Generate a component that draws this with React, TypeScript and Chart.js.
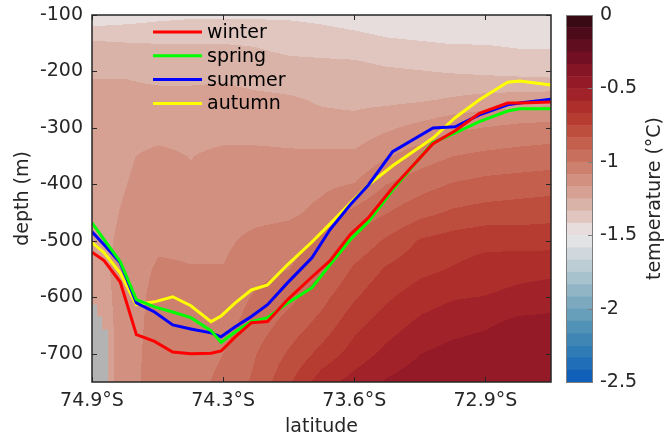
import React, { useEffect, useRef } from "react";
import { Chart, registerables } from "chart.js";

Chart.register(...registerables);

const FONT = "'DejaVu Sans', 'Liberation Sans', sans-serif";
const TEXT = "#262626";

// ---- line series (depth of isotherm by latitude) ----
const seasons = ["winter", "spring", "summer", "autumn"];
const seasonColors = ["#ff0000", "#00ff00", "#0000ff", "#ffff00"];
const lineLat = [-74.9, -74.84, -74.76, -74.68, -74.59, -74.5, -74.41, -74.31, -74.26, -74.19, -74.11, -74.03, -73.93, -73.81, -73.72, -73.62, -73.53, -73.41, -73.21, -73.1, -72.98, -72.84, -72.78, -72.625];
const winterDepth = [-520, -535, -573, -666, -678, -697, -700, -699, -695, -670, -645, -643, -604, -564, -535, -489, -459, -406, -328, -305, -274, -256, -256, -254];
const springDepth = [-468, -498, -537, -604, -617, -626, -636, -659, -680, -661, -643, -636, -610, -583, -542, -498, -466, -410, -326, -309, -289, -270, -266, -266];
const summerDepth = [-484, -507, -539, -610, -626, -649, -656, -663, -670, -652, -634, -613, -574, -530, -480, -436, -401, -342, -300, -298, -277, -259, -256, -249];
const autumnDepth = [-503, -521, -557, -613, -608, -599, -615, -643, -633, -610, -587, -578, -542, -502, -470, -433, -401, -367, -318, -282, -250, -219, -217, -224];
const seriesDepth = [winterDepth, springDepth, summerDepth, autumnDepth];

// ---- axes ----
const xMin = -74.9;
const xMax = -72.625;
const xTickValues = [-74.9, -74.25, -73.6, -72.95];
const xTickLabels = ["74.9°S", "74.3°S", "73.6°S", "72.9°S"];
const yMin = -750;
const yMax = -100;
const yTickValues = [-700, -600, -500, -400, -300, -200, -100];
const cbTickValues = [0, -0.5, -1, -1.5, -2, -2.5];
const cbTickLabels = ["0", "-0.5", "-1", "-1.5", "-2", "-2.5"];

// ---- temperature section (°C) ----
const fieldLat = [-74.9, -74.74, -74.57, -74.41, -74.25, -74.09, -73.92, -73.76, -73.6, -73.44, -73.27, -73.11, -72.95, -72.79, -72.625];
const fieldDepth = [-100, -150, -200, -250, -300, -350, -400, -450, -500, -550, -600, -650, -700, -750];
const temp100 = [-1.48, -1.46, -1.44, -1.43, -1.43, -1.43, -1.43, -1.44, -1.46, -1.48, -1.49, -1.5, -1.5, -1.5, -1.5];
const temp150 = [-1.32, -1.33, -1.335, -1.335, -1.335, -1.34, -1.36, -1.37, -1.38, -1.4, -1.41, -1.42, -1.42, -1.43, -1.43];
const temp200 = [-1.26, -1.26, -1.28, -1.28, -1.27, -1.29, -1.3, -1.3, -1.3, -1.32, -1.33, -1.34, -1.35, -1.36, -1.37];
const temp250 = [-1.22, -1.22, -1.22, -1.22, -1.22, -1.23, -1.24, -1.26, -1.27, -1.27, -1.26, -1.24, -1.22, -1.21, -1.2];
const temp300 = [-1.21, -1.21, -1.21, -1.21, -1.21, -1.21, -1.21, -1.22, -1.22, -1.18, -1.14, -1.1, -1.08, -1.06, -1.05];
const temp350 = [-1.2, -1.18, -1.14, -1.17, -1.14, -1.14, -1.15, -1.15, -1.15, -1.09, -1.04, -1.0, -0.98, -0.97, -0.96];
const temp400 = [-1.2, -1.17, -1.13, -1.15, -1.12, -1.12, -1.12, -1.1, -1.08, -1.0, -0.95, -0.91, -0.89, -0.88, -0.87];
const temp450 = [-1.2, -1.16, -1.13, -1.13, -1.12, -1.11, -1.1, -1.06, -0.98, -0.92, -0.86, -0.82, -0.8, -0.79, -0.78];
const temp500 = [-1.2, -1.15, -1.1, -1.1, -1.1, -1.06, -1.04, -0.98, -0.9, -0.82, -0.74, -0.71, -0.69, -0.7, -0.7];
const temp550 = [-1.2, -1.14, -1.07, -1.08, -1.08, -1.03, -1.0, -0.93, -0.82, -0.74, -0.69, -0.66, -0.63, -0.61, -0.6];
const temp600 = [-1.21, -1.14, -1.05, -1.06, -1.05, -0.99, -0.94, -0.86, -0.76, -0.68, -0.62, -0.59, -0.58, -0.56, -0.55];
const temp650 = [-1.22, -1.14, -1.04, -1.05, -1.03, -0.96, -0.88, -0.8, -0.69, -0.62, -0.56, -0.53, -0.51, -0.47, -0.46];
const temp700 = [-1.22, -1.14, -1.03, -1.04, -1.0, -0.92, -0.82, -0.72, -0.63, -0.56, -0.5, -0.47, -0.45, -0.44, -0.44];
const temp750 = [-1.22, -1.14, -1.02, -1.03, -0.98, -0.9, -0.76, -0.62, -0.55, -0.49, -0.45, -0.43, -0.42, -0.42, -0.42];
const fieldTemp = [temp100, temp150, temp200, temp250, temp300, temp350, temp400, temp450, temp500, temp550, temp600, temp650, temp700, temp750];

// no-data (grey) cells at the bottom-left corner
const maskLat = [-74.9, -74.875, -74.85, -74.82];
const maskTop = [-613, -634, -657];

// colour levels, from 0 (top) to -2.5 (bottom), step 1/12 °C
const levelStep = 1 / 12;
const palette = [
  "#3a0a14", "#4d0b19", "#5f0d1f", "#730f22", "#851425", "#941a27",
  "#a12228", "#ad2e2b", "#b63c31", "#bd4d3c", "#c35f4c", "#c8705d",
  "#cd806e", "#d29080", "#d6a193", "#dab3a8", "#e0c6bf", "#e6dddc",
  "#e1e3e5", "#d0d8de", "#bccdd6", "#a7c1cd", "#92b5c6", "#7ca9c0",
  "#679eba", "#5192b7", "#3f86b5", "#2f7bb6", "#1f6eb7", "#1060b9",
];

function hexToRgb(h: string): number[] {
  return [parseInt(h.slice(1, 3), 16), parseInt(h.slice(3, 5), 16), parseInt(h.slice(5, 7), 16)];
}

function locate(arr: number[], v: number): [number, number] {
  const n = arr.length;
  const asc = arr[n - 1] > arr[0];
  for (let i = 0; i < n - 1; i++) {
    const a = arr[i];
    const b = arr[i + 1];
    if ((asc && v >= a && v <= b) || (!asc && v <= a && v >= b)) return [i, (v - a) / (b - a)];
  }
  if (asc ? v < arr[0] : v > arr[0]) return [0, 0];
  return [n - 2, 1];
}

const fieldPlugin = {
  id: "fieldPlugin",
  beforeDraw(chart: any) {
    const ctx = chart.ctx;
    ctx.save();
    ctx.fillStyle = "#ffffff";
    ctx.fillRect(0, 0, chart.width, chart.height);
    ctx.restore();
  },
  beforeDatasetsDraw(chart: any) {
    const { ctx, chartArea, scales } = chart;
    const xs = scales.x;
    const ys = scales.y;
    const L = Math.round(chartArea.left);
    const T = Math.round(chartArea.top);
    const W = Math.round(chartArea.right) - L;
    const H = Math.round(chartArea.bottom) - T;
    const img = ctx.createImageData(W, H);
    const rgb = palette.map(hexToRgb);
    const cols: [number, number][] = [];
    for (let px = 0; px < W; px++) cols.push(locate(fieldLat, xs.getValueForPixel(L + px + 0.5)));
    for (let py = 0; py < H; py++) {
      const [j, fy] = locate(fieldDepth, ys.getValueForPixel(T + py + 0.5));
      const r0 = fieldTemp[j];
      const r1 = fieldTemp[j + 1];
      for (let px = 0; px < W; px++) {
        const [i, fx] = cols[px];
        const a = r0[i] * (1 - fx) + r0[i + 1] * fx;
        const b = r1[i] * (1 - fx) + r1[i + 1] * fx;
        const t = a * (1 - fy) + b * fy;
        let k = Math.floor(-t / levelStep);
        if (k < 0) k = 0;
        if (k > palette.length - 1) k = palette.length - 1;
        const c = rgb[k];
        const o = (py * W + px) * 4;
        img.data[o] = c[0];
        img.data[o + 1] = c[1];
        img.data[o + 2] = c[2];
        img.data[o + 3] = 255;
      }
    }
    ctx.putImageData(img, L, T);
    ctx.save();
    ctx.fillStyle = "#b3b3b3";
    for (let k = 0; k < maskTop.length; k++) {
      const x0 = xs.getPixelForValue(maskLat[k]);
      const x1 = xs.getPixelForValue(maskLat[k + 1]);
      const y0 = ys.getPixelForValue(maskTop[k]);
      ctx.fillRect(x0, y0, x1 - x0, chartArea.bottom - y0);
    }
    ctx.restore();
  },
  afterDatasetsDraw(chart: any) {
    const { ctx, chartArea, scales } = chart;
    const { left, top, right, bottom } = chartArea;
    ctx.save();
    // frame
    ctx.strokeStyle = TEXT;
    ctx.lineWidth = 1.5;
    ctx.strokeRect(left, top, right - left, bottom - top);
    // inward ticks
    ctx.lineWidth = 1;
    ctx.beginPath();
    for (const v of xTickValues) {
      const px = Math.round(scales.x.getPixelForValue(v)) + 0.5;
      ctx.moveTo(px, bottom);
      ctx.lineTo(px, bottom - 5);
      ctx.moveTo(px, top);
      ctx.lineTo(px, top + 5);
    }
    for (const v of yTickValues) {
      const py = Math.round(scales.y.getPixelForValue(v)) + 0.5;
      ctx.moveTo(left, py);
      ctx.lineTo(left + 5, py);
      ctx.moveTo(right, py);
      ctx.lineTo(right - 5, py);
    }
    ctx.stroke();
    // legend
    ctx.font = `19px ${FONT}`;
    ctx.textBaseline = "middle";
    ctx.textAlign = "left";
    chart.data.datasets.forEach((ds: any, i: number) => {
      const yy = top + 17 + i * 23.8;
      ctx.strokeStyle = ds.borderColor;
      ctx.lineWidth = 3;
      ctx.beginPath();
      ctx.moveTo(left + 61, yy);
      ctx.lineTo(left + 110, yy);
      ctx.stroke();
      ctx.fillStyle = "#000000";
      ctx.fillText(ds.label, left + 115, yy + 1);
    });
    ctx.restore();
  },
  afterDraw(chart: any) {
    const { ctx, chartArea } = chart;
    const cb = chart.scales.cb;
    const bx0 = Math.round(chartArea.right) + 15;
    const bw = 26;
    ctx.save();
    for (let i = 0; i < palette.length; i++) {
      const y0 = cb.getPixelForValue(-i * levelStep);
      const y1 = cb.getPixelForValue(-(i + 1) * levelStep);
      ctx.fillStyle = palette[i];
      ctx.fillRect(bx0, y0, bw, y1 - y0 + 0.5);
    }
    const yTop = cb.getPixelForValue(0);
    const yBot = cb.getPixelForValue(-2.5);
    ctx.strokeStyle = "#7f7f7f";
    ctx.lineWidth = 1;
    ctx.strokeRect(bx0 + 0.5, yTop + 0.5, bw, yBot - yTop);
    ctx.beginPath();
    for (const v of cbTickValues) {
      const py = Math.round(cb.getPixelForValue(v)) + 0.5;
      ctx.moveTo(bx0 + bw, py);
      ctx.lineTo(bx0 + bw - 4, py);
    }
    ctx.stroke();
    // colour bar title
    ctx.fillStyle = TEXT;
    ctx.font = `19px ${FONT}`;
    ctx.textAlign = "center";
    ctx.textBaseline = "middle";
    ctx.translate(655, (yTop + yBot) / 2);
    ctx.rotate(-Math.PI / 2);
    ctx.fillText("temperature (°C)", 0, 0);
    ctx.restore();
  },
};

export default function App() {
  const canvasRef = useRef<HTMLCanvasElement | null>(null);

  useEffect(() => {
    const canvas = canvasRef.current;
    if (!canvas) return;
    Chart.defaults.font.family = FONT;
    const datasets = seasons.map((name, s) => ({
      label: name,
      data: lineLat.map((x, i) => ({ x, y: seriesDepth[s][i] })),
      borderColor: seasonColors[s],
      backgroundColor: seasonColors[s],
      borderWidth: 3,
      pointRadius: 0,
      tension: 0,
      fill: false,
      clip: 0,
    }));
    const chart = new Chart(canvas, {
      type: "line",
      data: { datasets },
      options: {
        animation: false,
        responsive: false,
        maintainAspectRatio: false,
        events: [],
        layout: { padding: { left: 0, top: 15, right: 0, bottom: 0 } },
        plugins: { legend: { display: false }, tooltip: { enabled: false } },
        scales: {
          x: {
            type: "linear",
            position: "bottom",
            min: xMin,
            max: xMax,
            afterBuildTicks: (s: any) => {
              s.ticks = xTickValues.map((v) => ({ value: v }));
            },
            afterFit: (s: any) => {
              s.height = 58;
              s.paddingLeft = 0;
              s.paddingRight = 0;
            },
            ticks: {
              callback: (v: any) => xTickLabels[xTickValues.indexOf(Number(v))] ?? "",
              font: { family: FONT, size: 19 },
              color: TEXT,
              padding: 8,
              maxRotation: 0,
              minRotation: 0,
              autoSkip: false,
            },
            grid: { display: false, drawTicks: false },
            border: { display: false },
            title: {
              display: true,
              text: "latitude",
              font: { family: FONT, size: 19 },
              color: TEXT,
              padding: { top: 0, bottom: 2 },
            },
          },
          y: {
            type: "linear",
            position: "left",
            min: yMin,
            max: yMax,
            afterBuildTicks: (s: any) => {
              s.ticks = yTickValues.map((v) => ({ value: v }));
            },
            afterFit: (s: any) => {
              s.width = 92;
              s.paddingTop = 0;
              s.paddingBottom = 0;
            },
            ticks: {
              callback: (v: any) => String(v),
              font: { family: FONT, size: 19 },
              color: TEXT,
              padding: 9,
              autoSkip: false,
            },
            grid: { display: false, drawTicks: false },
            border: { display: false },
            title: {
              display: true,
              text: "depth (m)",
              font: { family: FONT, size: 19 },
              color: TEXT,
              padding: { top: 12, bottom: 0 },
            },
          },
          cb: {
            type: "linear",
            position: "right",
            min: -2.5,
            max: 0,
            afterBuildTicks: (s: any) => {
              s.ticks = cbTickValues.map((v) => ({ value: v }));
            },
            afterFit: (s: any) => {
              s.width = 114;
              s.paddingTop = 0;
              s.paddingBottom = 0;
            },
            ticks: {
              callback: (v: any) => cbTickLabels[cbTickValues.indexOf(Number(v))] ?? "",
              font: { family: FONT, size: 19 },
              color: TEXT,
              padding: 49,
              autoSkip: false,
            },
            grid: { display: false, drawTicks: false },
            border: { display: false },
          },
        },
      },
      plugins: [fieldPlugin],
    } as any);
    return () => chart.destroy();
  }, []);

  return (
    <div style={{ position: "fixed", left: 0, top: 0, width: 665, height: 440, background: "#fff" }}>
      <canvas ref={canvasRef} width={665} height={440} style={{ display: "block", width: 665, height: 440 }} />
    </div>
  );
}
